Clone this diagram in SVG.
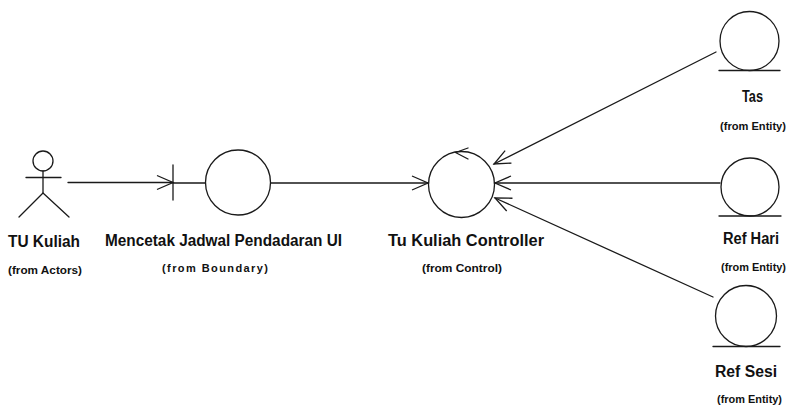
<svg xmlns="http://www.w3.org/2000/svg" width="789" height="411" viewBox="0 0 789 411">
<style>
.s{fill:none;stroke:#1a1a1a;stroke-width:1.3;stroke-linecap:round;stroke-linejoin:round}
.n{font-family:"Liberation Sans",Arial,sans-serif;font-weight:bold;font-size:16px;fill:#111}
.f{font-family:"Liberation Sans",Arial,sans-serif;font-weight:bold;font-size:11px;fill:#111}
</style>
<defs>
<marker id="ah" viewBox="0 0 20 20" refX="17" refY="10" markerWidth="20" markerHeight="20" markerUnits="userSpaceOnUse" orient="auto">
<path d="M1,3 L17,10 L1,17" fill="none" stroke="#1a1a1a" stroke-width="1.3"/>
</marker>
</defs>
<rect width="789" height="411" fill="#fff"/>
<g id="connectors">
<line class="s" x1="68" y1="182.5" x2="173" y2="182.5" marker-end="url(#ah)"/>
<line class="s" x1="271" y1="183" x2="428" y2="183" marker-end="url(#ah)"/>
<line class="s" x1="716" y1="52" x2="494" y2="164" marker-end="url(#ah)"/>
<line class="s" x1="720" y1="183" x2="495" y2="183" marker-end="url(#ah)"/>
<line class="s" x1="713" y1="297" x2="495" y2="198" marker-end="url(#ah)"/>
</g>
<g id="tu-kuliah">
<circle class="s" cx="43" cy="161" r="10"/>
<line class="s" x1="26" y1="177.5" x2="61" y2="177.5"/>
<line class="s" x1="43" y1="171" x2="43" y2="193"/>
<polyline class="s" points="19,217 43,193 69,217"/>
<text class="n" x="8" y="247" textLength="72" lengthAdjust="spacingAndGlyphs">TU Kuliah</text>
<text class="f" x="8" y="274" textLength="74" lengthAdjust="spacingAndGlyphs">(from Actors)</text>
</g>
<g id="boundary">
<line class="s" x1="173" y1="165" x2="173" y2="200"/>
<line class="s" x1="173" y1="183" x2="205.5" y2="183"/>
<circle class="s" cx="238" cy="182.5" r="32.5"/>
<text class="n" x="105" y="246" textLength="237" lengthAdjust="spacingAndGlyphs">Mencetak Jadwal Pendadaran UI</text>
<text class="f" x="162" y="272" textLength="106" lengthAdjust="spacing">(from Boundary)</text>
</g>
<g id="controller">
<circle class="s" cx="461.5" cy="184.5" r="33"/>
<polyline class="s" points="468,148 455.5,152.5 468,159"/>
<text class="n" x="388" y="246" textLength="156" lengthAdjust="spacingAndGlyphs">Tu Kuliah Controller</text>
<text class="f" x="422" y="272" textLength="80" lengthAdjust="spacingAndGlyphs">(from Control)</text>
</g>
<g id="tas">
<circle class="s" cx="749.5" cy="41" r="29.5"/>
<line class="s" x1="719" y1="70.5" x2="780" y2="70.5"/>
<text class="n" x="742" y="102" textLength="21" lengthAdjust="spacingAndGlyphs">Tas</text>
<text class="f" x="720" y="130" textLength="66" lengthAdjust="spacingAndGlyphs">(from Entity)</text>
</g>
<g id="ref-hari">
<circle class="s" cx="750" cy="187" r="29"/>
<line class="s" x1="719" y1="216" x2="781" y2="216"/>
<text class="n" x="723" y="244" textLength="56" lengthAdjust="spacingAndGlyphs">Ref Hari</text>
<text class="f" x="721" y="271" textLength="65" lengthAdjust="spacingAndGlyphs">(from Entity)</text>
</g>
<g id="ref-sesi">
<circle class="s" cx="746" cy="316" r="30.5"/>
<line class="s" x1="713" y1="346.5" x2="780" y2="346.5"/>
<text class="n" x="715" y="377" textLength="62" lengthAdjust="spacingAndGlyphs">Ref Sesi</text>
<text class="f" x="717" y="403" textLength="65" lengthAdjust="spacingAndGlyphs">(from Entity)</text>
</g>
</svg>
